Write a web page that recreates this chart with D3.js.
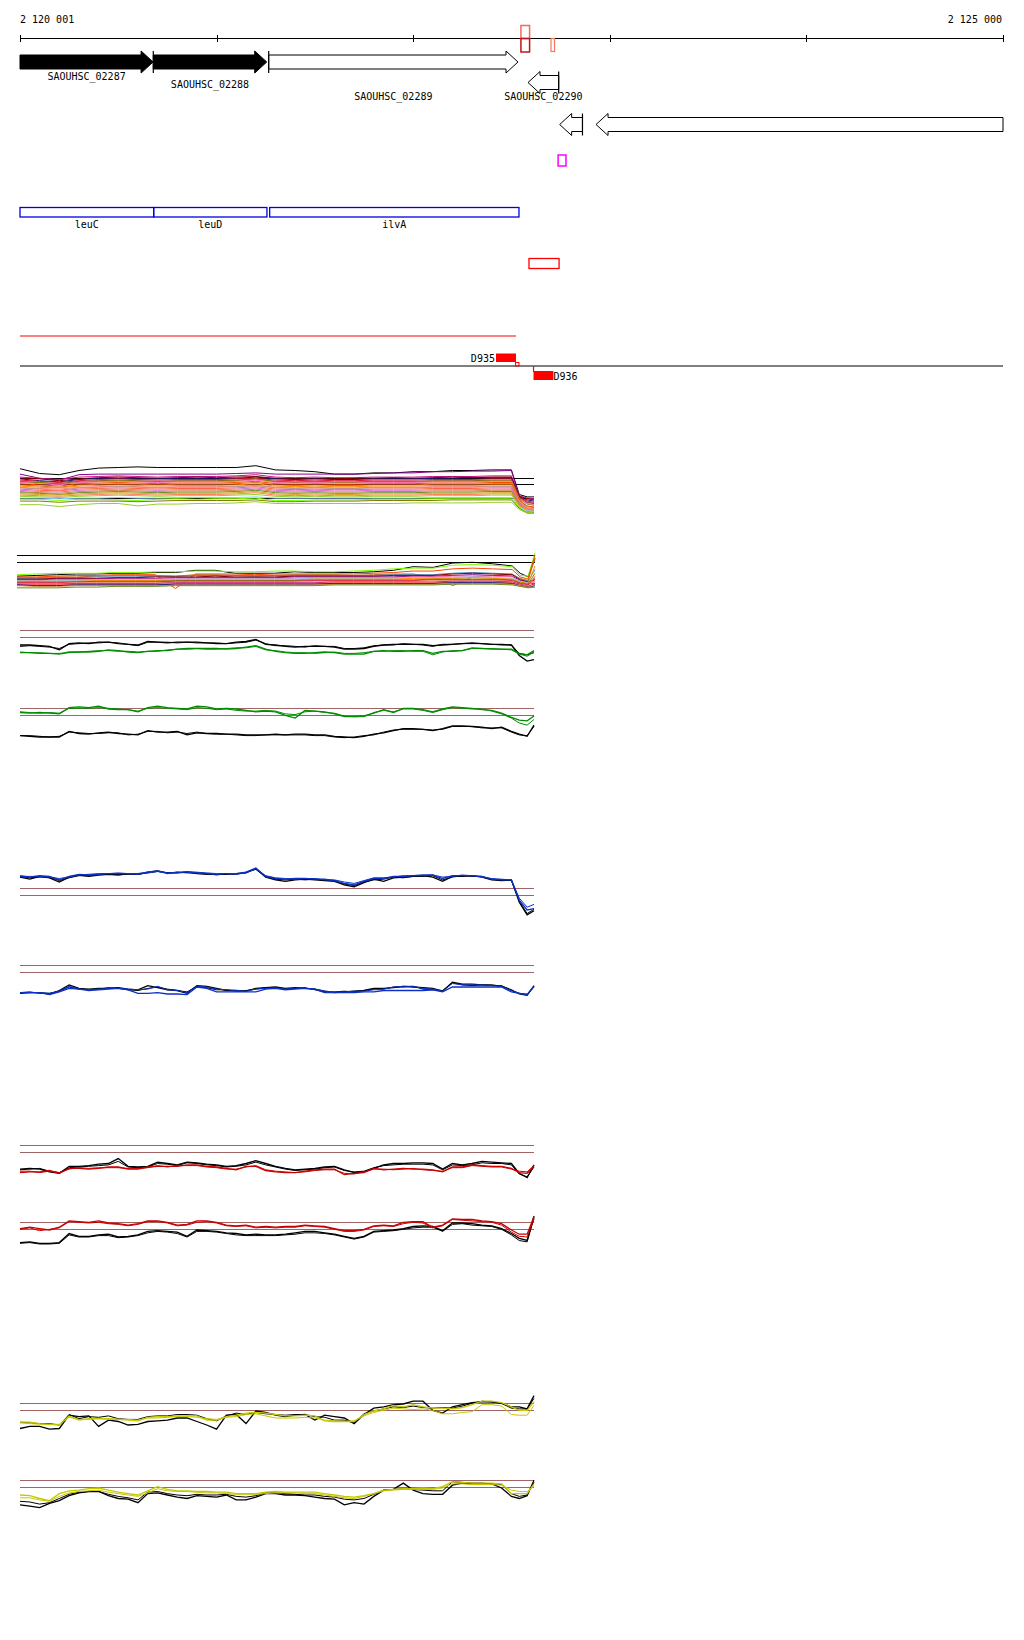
<!DOCTYPE html>
<html><head><meta charset="utf-8">
<script src="https://cdn.jsdelivr.net/npm/d3@7"></script>
<style>
body{margin:0;background:#fff}
svg{display:block}
text{font-family:"DejaVu Sans Mono","Liberation Mono",monospace;font-size:10px;fill:#000}
</style></head>
<body><svg id="c" width="1024" height="1640"></svg>
<script>
// ---------------- DATA ----------------
const axisDomain = [2120000, 2125000];
const tickPositions = [2120000, 2121000, 2122000, 2123000, 2124000, 2125000];
const startLabel = "2 120 001";
const endLabel = "2 125 000";

const geneNames  = ["SAOUHSC_02287","SAOUHSC_02288","SAOUHSC_02289","SAOUHSC_02290","",""];
const geneStarts = [2120000, 2120678, 2121265, 2122584, 2122745, 2122930];
const geneEnds   = [2120677, 2121255, 2122533, 2122740, 2122861, 2125000];
const geneStrand = [1, 1, 1, -1, -1, -1];
const geneRow    = [0, 0, 0, 1, 2, 2];
const geneLabelRow = [0, 1, 2, 2, -1, -1];
const geneFilled = [true, true, false, false, false, false];
const geneStartBar = [false, true, true, true, true, false];

const operonNames  = ["leuC", "leuD", "ilvA"];
const operonStarts = [2120000, 2120680, 2121270];
const operonEnds   = [2120680, 2121256, 2122538];

const siteNames  = ["D935", "D936"];
const siteStarts = [2122421, 2122612];
const siteEnds   = [2122523, 2122713];

// sample positions (bp offset from 2 120 000)
const posFine = [0,50,100,150,200,250,300,350,400,450,500,550,600,650,700,750,800,850,900,950,1000,1050,1100,1150,1200,1250,1300,1350,1400,1450,1500,1550,1600,1650,1700,1750,1800,1850,1900,1950,2000,2050,2100,2150,2200,2250,2300,2350,2400,2450,2500,2540,2580,2615];
const posCoarse = [0,100,200,300,400,500,600,700,800,900,1000,1100,1200,1300,1400,1500,1600,1700,1800,1900,2000,2100,2200,2300,2400,2500,2540,2580,2615];

// Track A (multi-sample)
const trackAValues = [
[2.6,1.8,1.6,2.3,2.7,2.8,2.9,2.8,2.8,2.8,2.8,2.8,3.1,2.4,2.3,2.1,1.7,1.7,1.9,1.9,2.1,2.1,2.3,2.3,2.4,2.4,-1.7,-2.1,-2.1],
[1.7,1.0,0.7,1.6,1.7,1.7,1.7,1.7,1.7,1.7,1.7,1.8,1.9,1.7,1.7,1.7,1.7,1.7,1.8,1.9,1.9,2.1,2.1,2.2,2.2,2.3,-2.0,-3.0,-3.2],
[1.2,1.0,0.8,1.2,1.3,1.4,1.3,1.2,1.3,1.3,1.3,1.4,1.6,1.2,1.1,1.2,1.1,1.1,1.2,1.2,1.2,1.3,1.3,1.3,1.4,1.4,-1.9,-2.3,-2.4],
[1.0,0.9,0.6,0.9,1.1,1.2,1.1,1.0,1.1,1.2,1.1,1.2,1.3,1.0,0.9,1.0,0.9,1.0,1.0,1.1,1.0,1.1,1.2,1.1,1.2,1.2,-2.0,-2.4,-2.6],
[0.9,0.6,0.4,0.8,1.0,1.0,0.9,0.9,1.0,1.0,0.9,1.0,1.2,0.9,0.8,0.9,0.8,0.8,0.9,0.9,0.9,1.0,1.0,1.1,1.1,1.1,-2.1,-2.6,-2.8],
[0.7,0.5,0.3,0.6,0.8,0.9,0.8,0.7,0.8,0.8,0.8,0.9,1.0,0.7,0.6,0.7,0.6,0.6,0.7,0.7,0.7,0.8,0.8,0.8,0.9,0.9,-2.2,-2.8,-3.0],
[0.5,0.3,0.1,0.5,0.6,0.7,0.6,0.5,0.6,0.6,0.6,0.7,0.9,0.5,0.4,0.5,0.4,0.4,0.5,0.5,0.5,0.6,0.6,0.6,0.7,0.7,-2.3,-3.0,-3.2],
[0.4,0.3,0.0,0.3,0.5,0.6,0.5,0.4,0.5,0.5,0.5,0.6,0.9,0.4,0.3,0.4,0.3,0.3,0.4,0.4,0.4,0.5,0.5,0.5,0.6,0.6,-2.4,-3.3,-3.5],
[0.3,0.1,-0.1,0.3,0.4,0.5,0.4,0.3,0.4,0.4,0.4,0.5,0.7,0.3,0.2,0.3,0.2,0.2,0.3,0.3,0.3,0.4,0.4,0.4,0.5,0.5,-2.5,-3.2,-3.4],
[0.1,-0.1,-0.3,0.1,0.2,0.3,0.2,0.1,0.2,0.2,0.2,0.3,0.5,0.1,0.0,0.1,0.0,0.0,0.1,0.1,0.1,0.2,0.2,0.2,0.3,0.3,-2.6,-3.6,-3.8],
[-0.1,-0.3,-0.5,-0.1,0.0,0.1,0.0,-0.1,0.0,0.0,0.0,0.1,0.3,-0.1,-0.2,-0.1,-0.2,-0.2,-0.1,-0.1,-0.1,0.0,0.0,0.0,0.1,0.1,-2.7,-3.7,-3.9],
[-0.3,-0.5,-0.6,-0.3,-0.2,-0.1,-0.2,-0.3,-0.2,-0.2,-0.2,-0.1,0.1,-0.3,-0.4,-0.3,-0.4,-0.4,-0.3,-0.3,-0.3,-0.2,-0.2,-0.2,-0.1,-0.1,-2.8,-3.9,-4.1],
[-0.5,-0.7,-0.8,-0.5,-0.4,-0.3,-0.4,-0.5,-0.4,-0.4,-0.4,-0.3,-0.1,-0.5,-0.6,-0.5,-0.6,-0.6,-0.5,-0.5,-0.5,-0.4,-0.4,-0.4,-0.3,-0.3,-2.9,-4.0,-4.2],
[-0.6,-0.8,-1.0,-0.6,-0.5,-0.4,-0.5,-0.6,-0.5,-0.5,-0.5,-0.4,-0.2,-0.6,-0.7,-0.6,-0.7,-0.7,-0.6,-0.6,-0.6,-0.5,-0.5,-0.5,-0.4,-0.4,-3.0,-4.1,-4.3],
[-0.8,-1.0,-1.1,-0.8,-0.7,-0.6,-0.7,-0.8,-0.7,-0.7,-0.7,-0.6,-0.4,-0.8,-0.9,-0.8,-0.9,-0.9,-0.8,-0.8,-0.8,-0.7,-0.7,-0.7,-0.6,-0.6,-3.1,-4.2,-4.4],
[-1.0,-1.2,-1.3,-1.0,-0.9,-0.8,-0.9,-1.0,-0.9,-0.9,-0.9,-0.8,-0.6,-1.0,-1.1,-1.0,-1.1,-1.1,-1.0,-1.0,-1.0,-0.9,-0.9,-0.9,-0.8,-0.8,-3.2,-4.3,-4.5],
[-1.2,-1.4,-1.5,-1.2,-1.1,-1.0,-1.1,-1.2,-1.1,-1.1,-1.1,-1.0,-0.8,-1.2,-1.3,-1.2,-1.3,-1.3,-1.2,-1.2,-1.2,-1.1,-1.1,-1.1,-1.0,-1.0,-3.3,-4.4,-4.6],
[-1.4,-1.5,-1.7,-1.4,-1.3,-1.2,-1.3,-1.4,-1.3,-1.3,-1.3,-1.2,-1.0,-1.4,-1.5,-1.4,-1.5,-1.5,-1.4,-1.4,-1.4,-1.3,-1.3,-1.3,-1.2,-1.2,-3.4,-4.5,-4.7],
[-1.6,-1.7,-1.8,-1.6,-1.5,-1.4,-1.5,-1.6,-1.5,-1.5,-1.5,-1.4,-1.2,-1.6,-1.7,-1.6,-1.7,-1.7,-1.6,-1.6,-1.6,-1.5,-1.5,-1.5,-1.4,-1.4,-3.5,-4.3,-4.5],
[-1.8,-1.9,-2.0,-1.8,-1.7,-1.6,-1.7,-1.8,-1.7,-1.7,-1.7,-1.6,-1.4,-1.8,-1.9,-1.8,-1.9,-1.9,-1.8,-1.8,-1.8,-1.7,-1.7,-1.7,-1.6,-1.6,-3.6,-4.4,-4.6],
[-2.0,-2.1,-2.2,-2.0,-1.9,-1.8,-1.9,-2.0,-1.9,-1.9,-1.9,-1.8,-1.7,-2.0,-2.1,-2.0,-2.1,-2.1,-2.0,-2.0,-2.0,-1.9,-1.9,-1.9,-1.8,-1.8,-3.7,-4.6,-4.8],
[-2.3,-2.3,-2.4,-2.3,-2.3,-2.2,-2.3,-2.3,-2.2,-2.2,-2.2,-2.2,-2.1,-2.3,-2.3,-2.3,-2.3,-2.3,-2.3,-2.3,-2.3,-2.2,-2.2,-2.2,-2.2,-2.2,-3.8,-4.4,-4.5],
[-2.5,-2.5,-2.7,-2.5,-2.5,-2.6,-2.7,-2.5,-2.4,-2.5,-2.4,-2.4,-2.3,-2.7,-2.7,-2.6,-2.6,-2.6,-2.5,-2.5,-2.5,-2.4,-2.4,-2.4,-2.4,-2.4,-3.9,-4.7,-4.8],
[-2.8,-2.8,-3.0,-2.8,-2.8,-2.8,-2.9,-2.8,-2.7,-2.7,-2.7,-2.7,-2.6,-2.9,-2.9,-2.8,-2.8,-2.8,-2.7,-2.7,-2.7,-2.7,-2.6,-2.6,-2.6,-2.6,-4.0,-4.8,-4.8],
[-3.4,-3.4,-3.7,-3.4,-3.2,-3.2,-3.6,-3.3,-3.3,-3.2,-3.2,-3.1,-2.9,-3.2,-3.2,-3.2,-3.2,-3.2,-3.2,-3.2,-3.1,-3.1,-3.1,-3.1,-3.0,-3.0,-4.2,-4.8,-4.8]
];
const trackARefs = [1, 0, -2.4];

// Track B (multi-sample)
const trackBValues = [
[-1.9,-1.8,-1.7,-1.6,-1.6,-1.5,-1.5,-1.4,-1.4,-1.1,-1.1,-1.5,-1.5,-1.5,-1.3,-1.4,-1.4,-1.4,-1.3,-1.1,-0.6,-0.7,-0.1,0.0,-0.2,-0.5,-1.5,-2.0,0.5],
[-1.7,-1.6,-1.5,-1.5,-1.5,-1.4,-1.4,-1.3,-1.3,-1.2,-1.2,-1.3,-1.3,-1.2,-1.2,-1.3,-1.3,-1.2,-1.1,-0.9,-0.8,-0.8,-0.4,-0.3,-0.4,-0.6,-1.8,-1.9,1.3],
[-2.0,-2.0,-1.9,-1.8,-1.8,-1.7,-1.7,-1.7,-3.6,-1.6,-1.6,-1.6,-1.7,-1.6,-1.6,-1.6,-1.6,-1.6,-1.5,-1.4,-1.2,-1.2,-0.9,-0.8,-0.9,-1.0,-2.0,-2.3,1.0],
[-2.1,-2.1,-2.0,-2.0,-1.9,-1.8,-1.8,-1.8,-1.9,-1.7,-1.7,-1.8,-1.8,-1.8,-1.7,-1.7,-1.7,-1.8,-1.7,-1.6,-1.6,-2.0,-3.2,-2.0,-1.8,-1.7,-2.2,-2.5,0.6],
[-2.2,-2.2,-2.1,-2.1,-2.0,-2.0,-2.0,-1.9,-1.9,-1.8,-1.8,-1.8,-1.9,-1.8,-1.8,-1.8,-1.8,-1.8,-1.8,-1.7,-1.7,-1.7,-1.5,-1.4,-1.5,-1.6,-2.3,-2.6,-1.0],
[-2.3,-2.3,-2.2,-2.2,-2.2,-2.1,-2.1,-2.0,-2.0,-2.0,-1.9,-2.0,-2.0,-2.0,-1.9,-1.9,-1.9,-1.9,-1.9,-1.8,-1.8,-1.8,-1.6,-1.5,-1.6,-1.7,-2.4,-2.7,-2.4],
[-2.4,-2.4,-2.3,-2.3,-2.3,-2.2,-2.2,-2.2,-2.1,-2.1,-2.1,-2.1,-2.1,-2.1,-2.0,-2.0,-2.0,-2.0,-2.0,-2.0,-1.9,-1.9,-1.8,-1.7,-1.8,-1.9,-2.5,-2.8,-3.0],
[-2.5,-2.5,-2.4,-2.4,-2.4,-2.3,-2.3,-2.3,-2.2,-2.2,-2.2,-2.2,-2.2,-2.2,-2.2,-2.1,-2.1,-2.1,-2.1,-2.1,-2.0,-2.0,-1.9,-1.9,-1.9,-2.0,-2.6,-2.9,-2.7],
[-2.5,-2.6,-2.5,-2.5,-2.4,-2.4,-2.4,-2.4,-2.3,-2.3,-2.3,-2.3,-2.3,-2.3,-2.3,-2.2,-2.2,-2.2,-2.2,-2.2,-2.1,-2.1,-2.1,-2.0,-2.1,-2.2,-2.6,-2.8,-2.6],
[-2.6,-2.6,-2.6,-2.6,-2.5,-2.5,-2.5,-2.5,-2.4,-2.4,-2.4,-2.4,-2.4,-2.4,-2.4,-2.3,-2.3,-2.3,-2.3,-2.3,-2.2,-2.2,-2.2,-2.1,-2.2,-2.3,-2.7,-2.9,-0.5],
[-2.7,-2.7,-2.7,-2.7,-2.6,-2.6,-2.6,-2.6,-2.5,-2.5,-2.5,-2.5,-2.5,-2.5,-2.5,-2.4,-2.4,-2.4,-2.4,-2.4,-2.4,-2.3,-2.3,-2.3,-2.3,-2.4,-2.8,-3.0,-1.5],
[-2.8,-2.8,-2.8,-2.7,-2.7,-2.7,-2.7,-2.7,-2.6,-2.6,-2.6,-2.6,-2.6,-2.6,-2.6,-2.5,-2.5,-2.5,-2.5,-2.5,-2.5,-2.4,-2.4,-2.4,-2.4,-2.5,-2.9,-3.1,-2.2],
[-2.9,-2.9,-2.9,-2.8,-2.8,-2.8,-2.8,-2.8,-2.7,-2.7,-2.7,-2.7,-2.7,-2.7,-2.7,-2.6,-2.6,-2.6,-2.6,-2.6,-2.6,-2.5,-2.5,-2.5,-2.5,-2.6,-3.0,-3.2,-2.5],
[-3.0,-3.0,-3.0,-2.9,-2.9,-2.9,-2.9,-2.9,-2.8,-2.8,-2.8,-2.8,-2.8,-2.8,-2.8,-2.8,-2.7,-2.7,-2.7,-2.7,-2.7,-2.7,-2.6,-2.6,-2.6,-2.7,-3.0,-3.3,-2.9],
[-3.1,-3.1,-3.1,-3.0,-3.0,-3.0,-3.0,-3.0,-2.9,-2.9,-2.9,-2.9,-2.9,-2.9,-2.9,-2.9,-2.8,-2.8,-2.8,-2.8,-2.8,-2.8,-2.7,-2.7,-2.7,-2.8,-3.1,-3.3,-1.9],
[-3.1,-3.2,-3.2,-3.1,-3.1,-3.1,-3.1,-3.1,-3.0,-3.0,-3.0,-3.0,-3.0,-3.0,-3.0,-3.0,-2.9,-2.9,-2.9,-2.9,-2.9,-2.9,-2.8,-2.8,-2.8,-2.9,-3.2,-3.4,-3.2],
[-3.2,-3.3,-3.3,-3.2,-3.2,-3.2,-3.2,-3.2,-3.1,-3.1,-3.1,-3.1,-3.1,-3.1,-3.1,-3.1,-3.0,-3.0,-3.0,-3.0,-3.0,-3.0,-2.9,-2.9,-2.9,-3.0,-3.2,-3.4,-3.1],
[-3.5,-3.5,-3.5,-3.4,-3.4,-3.3,-3.3,-3.3,-3.2,-3.2,-3.2,-3.2,-3.2,-3.2,-3.2,-3.2,-3.1,-3.1,-3.1,-3.1,-3.1,-3.1,-3.0,-3.0,-3.0,-3.1,-3.3,-3.5,-3.4]
];
const trackBRefs = [1, 0];

// Track C (black x2, green x2)
const trackCValues = [
[-1.1,-1.1,-1.2,-1.3,-1.8,-0.9,-0.8,-0.9,-0.7,-0.7,-0.9,-1.0,-1.1,-0.6,-0.7,-0.8,-0.7,-0.7,-0.7,-0.8,-0.9,-0.9,-0.7,-0.6,-0.3,-1.0,-1.1,-1.3,-1.4,-1.3,-1.3,-1.3,-1.4,-1.7,-1.7,-1.6,-1.3,-1.1,-1.0,-1.0,-1.0,-1.0,-1.2,-1.1,-1.0,-0.9,-0.8,-0.9,-1.0,-1.0,-1.1,-2.6,-3.4,-3.2],
[-1.3,-1.2,-1.3,-1.4,-1.6,-1.0,-0.9,-0.8,-0.8,-0.7,-0.8,-1.0,-1.2,-0.7,-0.7,-0.7,-0.8,-0.7,-0.8,-0.8,-0.8,-0.9,-0.8,-0.7,-0.4,-0.9,-1.2,-1.2,-1.3,-1.4,-1.2,-1.3,-1.3,-1.6,-1.6,-1.5,-1.2,-1.1,-1.1,-0.9,-1.0,-1.1,-1.3,-1.0,-1.0,-0.9,-0.9,-0.9,-1.0,-1.1,-1.1,-2.3,-2.5,-2.2],
[-2.2,-2.2,-2.3,-2.3,-2.4,-2.1,-2.1,-2.1,-2.0,-1.8,-1.9,-2.1,-2.2,-2.0,-1.9,-1.9,-1.7,-1.6,-1.6,-1.6,-1.6,-1.7,-1.6,-1.4,-1.2,-1.7,-2.0,-2.2,-2.3,-2.3,-2.2,-2.1,-2.2,-2.4,-2.4,-2.4,-2.0,-1.9,-2.0,-2.0,-1.9,-1.9,-2.3,-2.0,-2.0,-1.9,-1.5,-1.6,-1.7,-1.7,-1.7,-2.3,-2.5,-1.9],
[-2.1,-2.2,-2.2,-2.3,-2.3,-2.2,-2.1,-2.0,-1.9,-1.9,-2.0,-2.0,-2.1,-2.0,-2.0,-1.8,-1.7,-1.7,-1.6,-1.7,-1.7,-1.6,-1.5,-1.5,-1.3,-1.8,-1.9,-2.1,-2.2,-2.2,-2.3,-2.2,-2.1,-2.3,-2.3,-2.2,-2.0,-2.0,-1.9,-1.9,-2.0,-2.0,-2.5,-2.1,-1.9,-1.9,-1.6,-1.6,-1.6,-1.7,-1.8,-2.4,-2.7,-2.1]
];
// Track D (green x2, black x2)
const trackDValues = [
[0.4,0.3,0.4,0.3,0.2,1.1,1.2,1.1,1.3,0.9,0.8,0.8,0.5,1.1,1.3,1.1,1.0,0.9,1.3,1.2,0.9,1.0,0.9,0.7,0.5,0.6,0.5,0.0,-0.4,0.7,0.6,0.5,0.2,-0.2,-0.2,-0.1,0.3,0.8,0.4,1.0,1.0,0.8,0.5,0.9,1.2,1.1,1.0,0.8,0.7,0.3,-0.3,-0.7,-0.8,-0.1],
[0.5,0.4,0.3,0.4,0.3,1.0,1.0,1.0,1.1,1.0,0.9,0.8,0.6,1.0,1.1,1.0,0.9,0.8,1.1,1.0,0.8,0.9,0.7,0.6,0.6,0.7,0.6,0.2,0.1,0.5,0.6,0.4,0.3,-0.1,-0.2,-0.2,0.4,0.7,0.5,0.9,0.9,0.7,0.4,0.8,1.1,1.0,0.9,0.9,0.6,0.2,-0.4,-1.1,-1.4,-0.6],
[-2.9,-3.0,-3.1,-3.1,-3.1,-2.3,-2.6,-2.7,-2.5,-2.4,-2.6,-2.7,-2.8,-2.2,-2.4,-2.4,-2.3,-2.8,-2.5,-2.6,-2.6,-2.7,-2.7,-2.8,-2.8,-2.8,-2.7,-2.8,-2.7,-2.7,-2.8,-2.8,-3.0,-3.1,-3.2,-3.0,-2.7,-2.5,-2.2,-1.9,-1.9,-2.0,-2.2,-1.9,-1.5,-1.5,-1.6,-1.7,-1.9,-1.7,-2.3,-2.7,-3.0,-1.4],
[-2.9,-2.9,-3.0,-3.1,-3.0,-2.4,-2.5,-2.6,-2.6,-2.5,-2.5,-2.8,-2.7,-2.3,-2.3,-2.5,-2.4,-2.6,-2.4,-2.6,-2.7,-2.7,-2.8,-2.9,-2.9,-2.8,-2.8,-2.8,-2.8,-2.8,-2.9,-2.9,-3.1,-3.2,-3.1,-2.9,-2.8,-2.4,-2.1,-2.0,-2.0,-2.0,-2.1,-2.0,-1.6,-1.6,-1.6,-1.8,-1.8,-1.8,-2.4,-2.8,-2.9,-1.6]
];
// Track E (black x2, blue x2)
const trackEValues = [
[2.6,2.3,2.7,2.5,1.9,2.6,2.9,2.7,2.9,3.0,2.9,3.1,3.0,3.3,3.5,3.2,3.2,3.3,3.1,3.0,3.0,3.0,3.1,3.2,3.8,2.6,2.2,2.0,2.2,2.3,2.2,2.1,2.0,1.5,1.2,1.8,2.3,2.0,2.5,2.6,2.7,2.8,2.6,2.0,2.7,2.7,2.8,2.6,2.2,2.1,2.2,-1.0,-2.8,-2.2],
[2.7,2.5,2.6,2.6,2.1,2.5,2.8,2.8,3.0,3.1,3.0,3.0,3.0,3.2,3.4,3.2,3.3,3.2,3.2,3.1,2.9,3.1,3.0,3.3,3.7,2.7,2.3,2.2,2.3,2.2,2.3,2.2,2.1,1.6,1.4,1.9,2.2,2.3,2.6,2.5,2.7,2.7,2.8,2.2,2.6,2.8,2.7,2.7,2.3,2.2,2.1,-0.8,-2.6,-2.0],
[2.8,2.6,2.8,2.7,2.2,2.7,3.0,2.9,3.0,3.1,3.1,3.1,3.1,3.3,3.5,3.1,3.3,3.3,3.2,3.1,3.0,3.1,3.1,3.3,3.9,2.7,2.4,2.3,2.4,2.4,2.3,2.3,2.1,1.7,1.5,2.0,2.4,2.4,2.7,2.7,2.8,2.9,2.9,2.4,2.8,2.8,2.8,2.7,2.3,2.2,2.2,-0.7,-2.1,-1.9],
[2.7,2.7,2.7,2.6,2.4,2.6,2.9,3.0,3.1,3.1,3.2,3.1,3.0,3.2,3.4,3.2,3.2,3.4,3.3,3.2,3.1,3.1,3.0,3.2,3.8,2.8,2.5,2.4,2.3,2.4,2.4,2.2,2.2,1.9,1.7,2.1,2.5,2.5,2.6,2.8,2.8,2.8,2.9,2.6,2.7,2.9,2.8,2.6,2.4,2.3,2.2,-0.4,-1.7,-1.3]
];
// Track F (black x2, blue x2)
const trackFValues = [
[-3.0,-2.9,-2.9,-3.1,-2.6,-1.8,-2.3,-2.4,-2.3,-2.3,-2.2,-2.4,-2.5,-1.9,-2.2,-2.5,-2.6,-3.0,-1.9,-2.0,-2.3,-2.6,-2.6,-2.7,-2.3,-2.2,-2.1,-2.3,-2.2,-2.3,-2.4,-2.7,-2.9,-2.8,-2.7,-2.6,-2.3,-2.3,-2.2,-2.0,-2.1,-2.2,-2.3,-2.7,-1.4,-1.7,-1.7,-1.8,-1.8,-2.0,-2.5,-3.1,-3.3,-1.9],
[-2.9,-2.8,-3.0,-3.0,-2.7,-2.1,-2.4,-2.5,-2.4,-2.2,-2.3,-2.5,-2.6,-2.3,-2.1,-2.4,-2.6,-2.8,-2.0,-2.2,-2.5,-2.5,-2.7,-2.6,-2.4,-2.2,-2.2,-2.4,-2.3,-2.2,-2.5,-2.8,-2.8,-2.7,-2.8,-2.6,-2.4,-2.4,-2.1,-2.1,-2.0,-2.4,-2.5,-2.6,-1.5,-1.8,-1.9,-1.8,-1.9,-1.9,-2.6,-3.0,-3.2,-2.1],
[-2.9,-2.9,-2.9,-3.2,-2.8,-2.3,-2.4,-2.6,-2.5,-2.4,-2.3,-2.5,-3.0,-3.0,-2.9,-3.1,-3.1,-3.2,-2.1,-2.3,-2.8,-2.8,-2.8,-2.8,-2.8,-2.4,-2.3,-2.5,-2.4,-2.3,-2.4,-2.9,-2.9,-2.9,-2.9,-2.8,-2.8,-2.6,-2.6,-2.6,-2.6,-2.6,-2.5,-2.8,-2.1,-2.1,-2.1,-2.1,-2.1,-2.1,-2.8,-3.0,-3.2,-2.0],
[-2.9,-2.9,-2.9,-3.0,-2.7,-2.0,-2.4,-2.5,-2.4,-2.3,-2.3,-2.4,-2.5,-2.4,-2.0,-2.5,-2.6,-2.9,-2.0,-2.1,-2.4,-2.5,-2.6,-2.7,-2.4,-2.3,-2.2,-2.4,-2.3,-2.3,-2.4,-2.7,-2.8,-2.8,-2.7,-2.7,-2.5,-2.4,-2.1,-2.0,-2.0,-2.3,-2.4,-2.7,-1.6,-1.8,-1.8,-1.8,-1.9,-2.0,-2.6,-3.0,-3.1,-2.0]
];
// Track G (black x2, red x2)
const trackGValues = [
[-2.4,-2.3,-2.4,-2.8,-3.0,-2.0,-2.0,-1.9,-1.7,-1.6,-0.9,-2.0,-2.1,-2.0,-1.4,-1.6,-1.8,-1.4,-1.5,-1.7,-1.8,-2.0,-1.9,-1.6,-1.2,-1.6,-2.0,-2.3,-2.5,-2.4,-2.3,-2.1,-2.0,-2.5,-2.9,-2.8,-2.3,-1.8,-1.6,-1.6,-1.5,-1.5,-1.6,-2.4,-1.6,-1.8,-1.6,-1.3,-1.4,-1.5,-1.6,-3.0,-3.6,-1.8],
[-2.5,-2.4,-2.3,-2.7,-2.9,-2.2,-2.1,-2.0,-1.9,-1.8,-1.3,-2.1,-2.2,-2.1,-1.6,-1.7,-1.9,-1.5,-1.6,-1.8,-1.9,-2.1,-2.0,-1.8,-1.4,-1.8,-2.1,-2.4,-2.6,-2.5,-2.4,-2.2,-2.1,-2.6,-2.8,-2.7,-2.2,-1.9,-1.8,-1.7,-1.7,-1.7,-1.8,-2.5,-1.8,-1.9,-1.8,-1.5,-1.6,-1.6,-1.8,-3.1,-3.5,-2.1],
[-2.9,-2.8,-2.8,-2.6,-3.0,-2.3,-2.3,-2.4,-2.3,-2.1,-2.1,-2.4,-2.4,-2.1,-2.0,-2.0,-2.0,-1.8,-1.8,-2.0,-2.1,-2.3,-2.5,-2.0,-2.0,-2.6,-2.8,-2.9,-2.9,-2.7,-2.5,-2.4,-2.4,-3.2,-3.0,-2.9,-2.3,-2.5,-2.4,-2.3,-2.4,-2.4,-2.5,-2.8,-2.1,-2.1,-1.8,-1.9,-2.0,-2.0,-2.3,-2.9,-3.0,-2.0],
[-2.7,-2.7,-2.9,-2.7,-2.9,-2.4,-2.2,-2.3,-2.2,-2.2,-2.2,-2.3,-2.3,-2.2,-1.9,-2.1,-1.9,-1.9,-1.9,-2.1,-2.2,-2.4,-2.4,-2.1,-1.9,-2.5,-2.7,-2.8,-2.9,-2.8,-2.6,-2.5,-2.5,-3.0,-3.1,-2.8,-2.4,-2.4,-2.5,-2.4,-2.3,-2.5,-2.6,-2.7,-2.2,-2.2,-1.9,-2.0,-2.1,-2.1,-2.4,-2.7,-2.8,-1.9]
];
// Track H (black x2, red x2)
const trackHValues = [
[-1.9,-1.8,-2.0,-2.0,-1.9,-0.6,-1.0,-1.0,-0.8,-0.7,-1.1,-1.0,-0.8,-0.3,-0.2,-0.3,-0.4,-1.0,-0.1,-0.2,-0.3,-0.5,-0.6,-0.8,-0.7,-0.8,-0.8,-0.7,-0.5,-0.3,-0.3,-0.5,-0.7,-1.0,-1.3,-1.0,-0.3,-0.2,-0.1,0.1,0.4,0.5,0.4,-0.2,0.9,0.9,0.8,0.6,0.5,0.1,-0.6,-1.3,-1.6,1.9],
[-2.0,-1.9,-2.1,-2.1,-2.0,-0.8,-1.1,-1.1,-0.9,-0.9,-1.2,-1.1,-0.9,-0.5,-0.3,-0.4,-0.6,-1.1,-0.3,-0.3,-0.4,-0.6,-0.8,-0.9,-0.9,-0.9,-0.9,-0.8,-0.7,-0.5,-0.5,-0.6,-0.8,-1.1,-1.4,-1.1,-0.4,-0.3,-0.2,0.0,0.2,0.3,0.3,-0.3,0.7,0.8,0.6,0.5,0.4,0.0,-0.8,-1.6,-1.8,1.6],
[0.1,0.3,0.1,-0.1,0.3,1.2,1.1,1.0,1.2,0.9,0.8,0.6,0.8,1.2,1.2,1.0,0.6,0.7,1.2,1.2,1.0,0.6,0.5,0.6,0.3,0.4,0.3,0.4,0.4,0.6,0.5,0.4,0.1,-0.2,-0.2,0.0,0.5,0.6,0.5,1.0,1.1,1.1,0.3,0.6,1.5,1.4,1.4,1.2,1.1,0.8,-0.1,-0.7,-0.7,1.8],
[0.0,0.2,-0.2,0.0,0.2,1.1,1.0,0.9,1.0,0.8,0.7,0.5,0.7,1.1,1.1,0.9,0.5,0.6,1.0,1.1,0.9,0.5,0.4,0.5,0.2,0.3,0.2,0.3,0.3,0.5,0.4,0.3,0.0,-0.3,-0.3,-0.1,0.4,0.5,0.4,0.8,1.0,0.9,0.2,0.5,1.4,1.3,1.2,1.1,1.0,0.6,-0.4,-1.0,-1.1,1.5]
];
// Track I (black x2, yellow x2)
const trackIValues = [
[-2.6,-2.3,-2.3,-2.7,-2.6,-0.7,-0.9,-0.8,-2.3,-1.4,-1.6,-2.1,-2.0,-1.6,-1.5,-1.4,-1.1,-1.1,-1.6,-2.1,-2.7,-0.7,-0.6,-1.9,-0.1,-0.3,-0.7,-0.9,-0.7,-0.6,-1.4,-0.7,-0.9,-1.1,-1.9,-0.6,0.3,0.5,0.8,0.9,1.3,1.3,0.0,-0.4,0.5,0.8,1.1,1.2,1.2,1.0,0.5,0.5,0.2,2.1],
[-1.7,-1.8,-1.9,-1.9,-2.1,-0.6,-1.2,-0.9,-1.0,-0.8,-1.2,-1.3,-1.3,-0.9,-0.8,-0.8,-0.6,-0.6,-0.7,-1.2,-1.5,-0.8,-0.4,-0.6,-0.3,-0.5,-0.6,-0.7,-0.6,-0.6,-0.9,-1.0,-1.4,-1.4,-1.8,-0.5,-0.1,0.2,0.5,0.4,0.6,0.4,0.3,0.4,0.3,0.6,1.0,1.3,1.2,1.0,0.3,0.2,0.2,1.7],
[-1.7,-1.7,-1.9,-2.0,-2.1,-0.8,-1.4,-1.2,-1.2,-1.2,-1.3,-1.4,-1.5,-1.0,-0.9,-0.9,-0.8,-0.8,-0.8,-1.4,-1.4,-0.9,-0.7,-0.4,-0.3,-0.4,-0.6,-0.8,-0.8,-0.7,-0.8,-1.5,-1.6,-1.6,-1.6,-0.6,-0.1,0.2,0.7,0.5,0.8,0.5,0.3,0.3,0.2,0.4,0.8,1.3,1.3,1.1,0.5,0.0,0.0,1.2],
[-1.8,-1.9,-2.0,-2.0,-2.0,-1.0,-1.3,-1.3,-1.2,-1.3,-1.3,-1.3,-1.4,-1.1,-1.1,-1.0,-0.9,-0.9,-1.0,-1.2,-1.3,-1.0,-0.9,-0.6,-0.5,-0.8,-1.1,-1.1,-1.1,-1.0,-1.1,-1.4,-1.5,-1.6,-1.5,-0.8,-0.3,0.0,0.3,0.2,0.1,0.2,0.0,-0.5,-0.5,-0.3,-0.2,0.8,0.8,0.6,-0.6,-0.7,-0.7,0.7]
];
// Track J (black x2, yellow x2)
const trackJValues = [
[-2.5,-2.7,-2.9,-2.3,-1.9,-1.2,-0.8,-0.6,-0.6,-1.2,-1.6,-1.7,-2.2,-0.9,-0.8,-1.1,-1.4,-1.6,-1.2,-1.3,-1.4,-1.1,-1.8,-1.8,-1.4,-0.9,-0.9,-1.1,-1.1,-1.2,-1.4,-1.6,-1.7,-2.5,-2.2,-2.4,-1.3,-0.4,-0.3,0.6,-0.4,-0.9,-1.0,-1.0,0.3,0.6,0.5,0.5,0.5,-0.1,-1.3,-1.6,-1.2,1.0],
[-2.0,-2.1,-2.4,-2.2,-1.6,-1.0,-0.7,-0.6,-0.6,-1.0,-1.3,-1.5,-1.8,-0.7,-0.6,-0.9,-1.1,-1.2,-1.0,-1.1,-1.1,-1.0,-1.3,-1.4,-1.2,-0.8,-0.8,-0.9,-1.0,-1.1,-1.1,-1.3,-1.4,-1.7,-1.8,-1.6,-1.0,-0.4,-0.3,-0.2,-0.3,-0.4,-0.5,-0.5,0.8,0.7,0.6,0.6,0.5,0.4,-0.9,-1.3,-1.1,0.7],
[-1.1,-1.2,-1.6,-1.9,-0.9,-0.5,-0.4,-0.2,-0.1,-0.4,-0.7,-0.9,-1.1,-0.5,0.1,-0.3,-0.5,-0.5,-0.6,-0.6,-0.7,-0.7,-0.9,-0.9,-0.9,-0.7,-0.6,-0.7,-0.7,-0.7,-0.7,-0.9,-1.1,-1.3,-1.4,-1.2,-0.9,-0.4,-0.3,-0.2,-0.2,-0.1,-0.2,0.1,0.8,0.7,0.6,0.6,0.6,0.5,-0.9,-0.9,-0.9,0.5],
[-1.5,-1.5,-1.8,-2.0,-1.3,-0.8,-0.6,-0.5,-0.4,-0.7,-0.9,-1.1,-1.3,-0.8,-0.2,-0.5,-0.6,-0.6,-0.7,-0.8,-0.8,-0.9,-1.0,-1.0,-1.0,-0.9,-0.8,-0.8,-0.8,-0.9,-0.9,-1.1,-1.3,-1.5,-1.6,-1.3,-0.9,-0.5,-0.4,-0.3,-0.3,-0.3,-0.3,-0.1,0.5,0.5,0.4,0.4,0.4,0.3,-0.4,-0.6,-0.6,0.2]
];
const thresholdRefs = [1, 0];

// Bars (genomic extents)
const greenBar = [2120000, 2123026];
const greenMark = [2121493, 2121518];
const redBar = [2120000, 2121289];
const redMark = [2120625, 2120651];

// ---------------- STYLE / LAYOUT ----------------
const GREEN = "#008c00", BLUE = "#0a32c8", RED = "#c80000", YEL = "#c4c800", BROWN = "#a06464";
const trackAColors = ["#000000","#8b008b","#c71585","#8b0000","#191970","#dc143c","#a0522d","#808000","#ff69b4","#ff4500","#d2691e","#ff8c00","#fa8072","#bc8f8f","#ff6347","#da70d6","#cd853f","#6b8e23","#daa520","#ff7f50","#9acd32","#87cefa","#7cfc00","#808000","#9acd32"];
const trackBColors = ["#000000","#7cfc00","#ff4500","#d2691e","#4682b4","#8b0000","#800080","#ff69b4","#87cefa","#ff8c00","#808000","#dc143c","#e9967a","#c71585","#ff6347","#000080","#cd853f","#6b8e23"];

const svg = d3.select("#c");
const x = d3.scaleLinear().domain(axisDomain).range([20, 1003]);
const X = p => x(axisDomain[0] + p);

// axis
svg.append("line").attr("x1", x(axisDomain[0])).attr("x2", x(axisDomain[1]))
  .attr("y1", 38.5).attr("y2", 38.5).attr("stroke", "#000").attr("shape-rendering","crispEdges");
svg.selectAll(".tick").data(tickPositions).join("line")
  .attr("x1", d => Math.round(x(d)) + 0.5).attr("x2", d => Math.round(x(d)) + 0.5)
  .attr("y1", 35).attr("y2", 42).attr("stroke", "#000").attr("shape-rendering","crispEdges");
svg.append("text").attr("x", 20).attr("y", 23).text(startLabel);
svg.append("text").attr("x", 1002).attr("y", 23).attr("text-anchor","end").text(endLabel);

// axis marks
svg.append("rect").attr("x", x(2122548)).attr("y", 25.5).attr("width", x(2122592)-x(2122548)).attr("height", 13)
  .attr("fill","none").attr("stroke","#f26b4f").attr("stroke-width",1.5);
svg.append("rect").attr("x", x(2122548)).attr("y", 38.5).attr("width", x(2122592)-x(2122548)).attr("height", 13.5)
  .attr("fill","none").attr("stroke","#c0141c").attr("stroke-width",1.5);
svg.append("rect").attr("x", x(2122701)).attr("y", 38.5).attr("width", x(2122719)-x(2122701)).attr("height", 13)
  .attr("fill","none").attr("stroke","#f07a60").attr("stroke-width",1.2);

// genes
const rowCenter = [62, 82.5, 124.5];
const labelBase = [80, 88, 100];
geneStarts.forEach((s, i) => {
  const c = rowCenter[geneRow[i]];
  const a = x(s), b = x(geneEnds[i]);
  const h = Math.min(12, b - a);
  let pts;
  if (geneStrand[i] > 0) {
    pts = [[a, c-7],[b-h, c-7],[b-h, c-11],[b, c],[b-h, c+11],[b-h, c+7],[a, c+7]];
  } else {
    pts = [[b, c-7],[a+h, c-7],[a+h, c-11],[a, c],[a+h, c+11],[a+h, c+7],[b, c+7]];
  }
  svg.append("polygon").attr("points", pts.map(p => p.join(",")).join(" "))
    .attr("fill", geneFilled[i] ? "#000" : "#fff").attr("stroke", "#000").attr("stroke-width", 1);
  if (geneStartBar[i]) {
    const xb = geneStrand[i] > 0 ? a : b;
    svg.append("line").attr("x1", xb).attr("x2", xb).attr("y1", c-11).attr("y2", c+11)
      .attr("stroke","#000").attr("stroke-width",1.2);
  }
  if (geneNames[i]) {
    svg.append("text").attr("x", (a+b)/2).attr("y", labelBase[geneLabelRow[i]])
      .attr("text-anchor","middle").text(geneNames[i]);
  }
});

// pink marker
svg.append("rect").attr("x", x(2122737)).attr("y", 155).attr("width", x(2122777)-x(2122737)).attr("height", 11)
  .attr("fill","none").attr("stroke","#ff00ff").attr("stroke-width",1.5);

// operon boxes
operonStarts.forEach((s, i) => {
  svg.append("rect").attr("x", x(s)).attr("y", 207.5).attr("width", x(operonEnds[i]) - x(s)).attr("height", 9.5)
    .attr("fill","none").attr("stroke","#0000e6").attr("stroke-width",1.3);
  svg.append("text").attr("x", (x(s)+x(operonEnds[i]))/2).attr("y", 228).attr("text-anchor","middle").text(operonNames[i]);
});

// red outline box
svg.append("rect").attr("x", x(2122589)).attr("y", 258.5).attr("width", x(2122742)-x(2122589)).attr("height", 10)
  .attr("fill","none").attr("stroke","#ff0000").attr("stroke-width",1.3);

// red line & black line
svg.append("line").attr("x1", x(2120000)).attr("x2", x(2122523)).attr("y1", 336).attr("y2", 336)
  .attr("stroke","#ff0000").attr("stroke-width",1.2);
svg.append("line").attr("x1", x(2120000)).attr("x2", x(2125000)).attr("y1", 366).attr("y2", 366)
  .attr("stroke","#000").attr("stroke-width",1.2);

// sites
svg.append("rect").attr("x", x(siteStarts[0])).attr("y", 353.5).attr("width", x(siteEnds[0])-x(siteStarts[0])).attr("height", 8.5).attr("fill","#ff0000");
svg.append("rect").attr("x", x(2122520)).attr("y", 362.5).attr("width", x(2122538)-x(2122520)).attr("height", 3.5)
  .attr("fill","none").attr("stroke","#ff0000").attr("stroke-width",1);
svg.append("text").attr("x", x(siteStarts[0]) - 1).attr("y", 361.5).attr("text-anchor","end").text(siteNames[0]);
svg.append("line").attr("x1", x(siteStarts[1])).attr("x2", x(siteStarts[1])).attr("y1", 366).attr("y2", 372)
  .attr("stroke","#ff0000").attr("stroke-width",1.2);
svg.append("rect").attr("x", x(siteStarts[1])).attr("y", 371).attr("width", x(siteEnds[1])-x(siteStarts[1])).attr("height", 9).attr("fill","#ff0000");
svg.append("text").attr("x", x(siteEnds[1])).attr("y", 379.5).text(siteNames[1]);

// bars
svg.append("rect").attr("x", X(greenBar[0])).attr("y", 824.5).attr("width", X(greenBar[1]) - X(greenBar[0])).attr("height", 11).attr("fill", GREEN);
svg.append("line").attr("x1", X(greenMark[0])).attr("x2", X(greenMark[1])).attr("y1", 841).attr("y2", 841).attr("stroke","#000");
svg.append("rect").attr("x", X(redBar[0])).attr("y", 1339).attr("width", X(redBar[1]) - X(redBar[0])).attr("height", 11.5).attr("fill", "#b80000");
svg.append("line").attr("x1", X(redMark[0])).attr("x2", X(redMark[1])).attr("y1", 1356.5).attr("y2", 1356.5).attr("stroke","#000");

// tracks
function drawTrack(cfg) {
  const g = svg.append("g");
  const xs = d3.scaleLinear().domain([cfg.pos[0], cfg.pos[cfg.pos.length-1]]).range(cfg.xr);
  const y = d3.scaleLinear().domain([0, 1]).range([cfg.y0, cfg.y0 - cfg.unit]);
  cfg.refs.forEach(r => {
    g.append("line").attr("x1", cfg.xr[0]).attr("x2", cfg.xr[1]).attr("y1", y(r)).attr("y2", y(r))
      .attr("stroke", cfg.refColor).attr("stroke-width", 1).attr("shape-rendering","crispEdges");
  });
  const line = d3.line().defined((d, i) => i < cfg.pos.length)
    .x((d, i) => xs(cfg.pos[i])).y(d => y(d));
  cfg.values.forEach((vals, k) => {
    g.append("path").attr("d", line(vals)).attr("fill","none")
      .attr("stroke", cfg.colors[k]).attr("stroke-width", cfg.widths ? cfg.widths[k] : 1);
  });
}
const fineX = [20, 534];
drawTrack({pos: posCoarse, xr: fineX, y0: 484.3, unit: 6, refs: trackARefs, refColor: "#000", values: trackAValues, colors: trackAColors});
drawTrack({pos: posCoarse, xr: [17, 535], y0: 562.3, unit: 7.3, refs: trackBRefs, refColor: "#000", values: trackBValues, colors: trackBColors});
const pairW = [1.3, 1, 1.3, 1];
drawTrack({pos: posFine, xr: fineX, y0: 637.3, unit: 7, refs: thresholdRefs, refColor: BROWN, values: trackCValues, colors: ["#000","#000",GREEN,GREEN], widths: pairW});
drawTrack({pos: posFine, xr: fineX, y0: 715.3, unit: 7, refs: thresholdRefs, refColor: BROWN, values: trackDValues, colors: [GREEN,GREEN,"#000","#000"], widths: pairW});
drawTrack({pos: posFine, xr: fineX, y0: 895.3, unit: 7, refs: thresholdRefs, refColor: BROWN, values: trackEValues, colors: ["#000","#000",BLUE,BLUE], widths: pairW});
drawTrack({pos: posFine, xr: fineX, y0: 972.3, unit: 7, refs: thresholdRefs, refColor: BROWN, values: trackFValues, colors: ["#000","#000",BLUE,BLUE], widths: pairW});
drawTrack({pos: posFine, xr: fineX, y0: 1152.3, unit: 7, refs: thresholdRefs, refColor: BROWN, values: trackGValues, colors: ["#000","#000",RED,RED], widths: pairW});
drawTrack({pos: posFine, xr: fineX, y0: 1229.3, unit: 7, refs: thresholdRefs, refColor: BROWN, values: trackHValues, colors: ["#000","#000",RED,RED], widths: pairW});
drawTrack({pos: posFine, xr: fineX, y0: 1410.3, unit: 7, refs: thresholdRefs, refColor: BROWN, values: trackIValues, colors: ["#000","#000",YEL,YEL], widths: pairW});
drawTrack({pos: posFine, xr: fineX, y0: 1487.3, unit: 7, refs: thresholdRefs, refColor: BROWN, values: trackJValues, colors: ["#000","#000",YEL,YEL], widths: pairW});
</script>
</body></html>
